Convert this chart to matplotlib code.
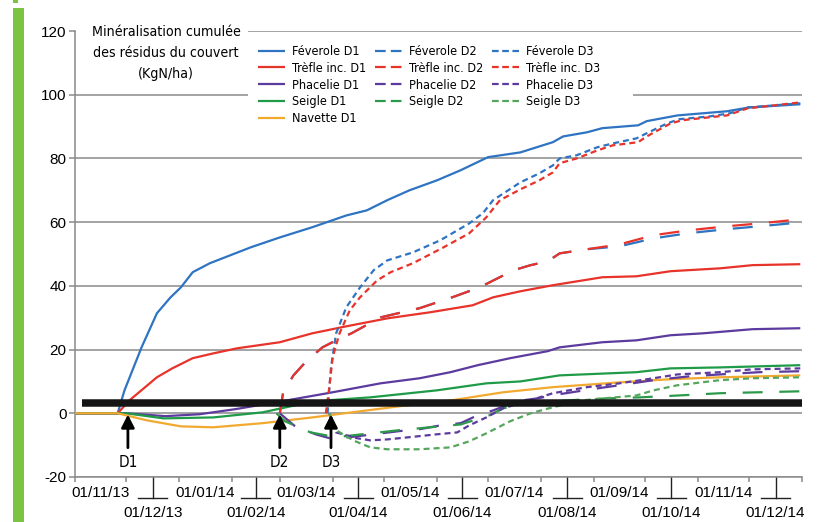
import matplotlib
matplotlib.use("Agg")
import matplotlib.pyplot as plt
from matplotlib import font_manager as fm
from matplotlib.lines import Line2D
from matplotlib.patches import Rectangle
from datetime import datetime, timedelta

# ---------------- DATA ----------------
debut = datetime(2013, 11, 1)   # day 0 of the series below

fev_d1_j = [0, 25, 29, 33, 39, 48, 56, 62, 69, 79, 91, 103, 120, 139, 159, 171, 183, 196, 212, 226, 242, 261, 280, 286, 300, 309, 330, 335, 353, 382, 395, 425]
fev_d1_v = [0, 0, 7.2, 12.6, 20.7, 31.4, 36.4, 39.5, 44.3, 47.1, 49.6, 52.1, 55.2, 58.4, 62.1, 63.7, 66.9, 70.0, 73.1, 76.3, 80.4, 81.9, 85.1, 86.9, 88.2, 89.5, 90.4, 91.7, 93.5, 94.8, 96.0, 97.0]

tre_d1_j = [0, 25, 32, 48, 57, 69, 81, 95, 120, 139, 159, 183, 208, 233, 245, 261, 280, 309, 329, 349, 378, 397, 425]
tre_d1_v = [0, 0, 4.1, 11.3, 14.1, 17.3, 18.8, 20.4, 22.3, 25.1, 27.3, 29.8, 31.7, 33.9, 36.4, 38.3, 40.2, 42.7, 43.0, 44.6, 45.5, 46.5, 46.8]

pha_d1_j = [0, 30, 53, 73, 94, 114, 148, 179, 202, 220, 236, 255, 277, 284, 309, 329, 349, 368, 397, 425]
pha_d1_v = [0, 0, -0.9, -0.3, 1.3, 3.1, 6.3, 9.4, 11.0, 12.9, 15.1, 17.3, 19.5, 20.7, 22.3, 22.9, 24.5, 25.1, 26.4, 26.7]

sei_d1_j = [0, 30, 52, 81, 110, 129, 149, 173, 212, 241, 261, 284, 329, 349, 378, 425]
sei_d1_v = [0, 0, -1.6, -1.3, 0.3, 2.5, 4.1, 5.0, 7.2, 9.4, 10.0, 11.9, 12.9, 14.1, 14.4, 15.1]

nav_d1_j = [0, 25, 42, 62, 81, 110, 139, 158, 190, 221, 251, 280, 319, 349, 378, 425]
nav_d1_v = [0, 0, -2.2, -4.1, -4.4, -3.1, -1.3, 0, 2.2, 4.1, 6.6, 8.2, 9.7, 10.7, 11.3, 11.9]

fev_d2_j = [120, 122, 128, 136, 145, 153, 162, 179, 202, 221, 237, 257, 267, 277, 284, 300, 319, 339, 359, 382, 401, 425]
fev_d2_v = [0, 6.6, 11.9, 16.6, 20.7, 22.9, 25.1, 30.1, 33.0, 36.4, 39.5, 44.9, 46.5, 47.7, 50.2, 51.5, 52.4, 54.9, 56.5, 57.8, 58.7, 59.9]

tre_d2_j = [120, 122, 128, 136, 145, 153, 162, 179, 202, 221, 237, 257, 267, 277, 284, 300, 319, 339, 359, 382, 401, 425]
tre_d2_v = [0, 6.6, 11.9, 16.6, 20.7, 22.9, 25.1, 30.1, 33.0, 36.4, 39.5, 44.9, 46.5, 47.7, 50.2, 51.5, 53.0, 55.9, 57.4, 58.7, 59.6, 60.9]

pha_d2_j = [120, 129, 141, 149, 161, 190, 202, 214, 226, 236, 245, 259, 271, 284, 302, 319, 339, 360, 378, 401, 425]
pha_d2_v = [0, -4.1, -6.6, -7.8, -7.5, -5.6, -5.0, -3.8, -3.1, -0.6, 0.9, 3.8, 4.7, 6.0, 7.5, 8.8, 10.4, 11.6, 12.2, 12.9, 13.2]

sei_d2_j = [118, 123, 138, 153, 163, 190, 202, 226, 243, 251, 267, 290, 313, 331, 354, 378, 401, 425]
sei_d2_v = [0, -2.5, -6.0, -7.5, -6.9, -5.3, -4.7, -3.5, -0.6, 1.6, 3.1, 4.1, 4.7, 5.0, 5.6, 6.3, 6.6, 6.9]

fev_d3_j = [148, 150, 153, 159, 167, 175, 183, 198, 214, 231, 239, 245, 261, 272, 280, 284, 294, 306, 315, 329, 335, 347, 354, 372, 384, 394, 425]
fev_d3_v = [0, 14.4, 25.1, 33.3, 39.5, 44.9, 48.0, 50.5, 54.3, 59.6, 62.8, 66.9, 72.5, 75.3, 77.8, 80.0, 81.0, 83.5, 84.7, 86.3, 87.9, 91.0, 92.3, 93.2, 94.2, 96.0, 97.3]

tre_d3_j = [147, 149, 151, 155, 161, 167, 177, 185, 198, 216, 231, 241, 249, 261, 272, 280, 284, 294, 306, 315, 330, 335, 349, 356, 382, 394, 425]
tre_d3_v = [0, 8.2, 17.6, 25.1, 32.3, 36.4, 41.7, 44.3, 47.1, 52.1, 56.5, 61.5, 66.9, 70.3, 73.1, 75.6, 78.5, 80.0, 82.5, 84.1, 85.1, 86.9, 91.0, 92.0, 93.5, 95.7, 97.6]

pha_d3_j = [149, 153, 165, 173, 183, 196, 212, 224, 231, 241, 251, 267, 280, 300, 319, 339, 353, 378, 397, 425]
pha_d3_v = [0, -6.0, -7.8, -8.5, -8.2, -7.5, -6.6, -6.0, -3.8, -1.3, 1.6, 4.1, 6.3, 8.2, 9.4, 11.0, 12.2, 12.9, 13.8, 14.1]

sei_d3_j = [149, 153, 163, 173, 183, 202, 220, 231, 241, 255, 267, 280, 298, 329, 339, 353, 378, 397, 425]
sei_d3_v = [0, -5.3, -8.5, -10.7, -11.3, -11.3, -10.7, -8.8, -6.3, -2.5, 0, 1.9, 4.1, 5.6, 7.2, 8.8, 10.4, 11.0, 11.3]

dates_apport = {'D1': datetime(2013, 12, 2), 'D2': datetime(2014, 3, 1), 'D3': datetime(2014, 3, 31)}

seuil_valeur = 3.1
seuil_debut = datetime(2013, 11, 5)

mois = [datetime(2013, 11, 1), datetime(2013, 12, 1), datetime(2014, 1, 1), datetime(2014, 2, 1),
        datetime(2014, 3, 1), datetime(2014, 4, 1), datetime(2014, 5, 1), datetime(2014, 6, 1),
        datetime(2014, 7, 1), datetime(2014, 8, 1), datetime(2014, 9, 1), datetime(2014, 10, 1),
        datetime(2014, 11, 1), datetime(2014, 12, 1), datetime(2015, 1, 1)]
etiquettes_x = ['01/11/13', '01/12/13', '01/01/14', '01/02/14', '01/03/14', '01/04/14', '01/05/14',
                '01/06/14', '01/07/14', '01/08/14', '01/09/14', '01/10/14', '01/11/14', '01/12/14']
yticks = [-20, 0, 20, 40, 60, 80, 100, 120]

titre = "Minéralisation cumulée\ndes résidus du couvert\n(KgN/ha)"

# ---------------- FONTS ----------------
_fonts = fm.fontManager.ttflist
_names = {f.name for f in _fonts}
if 'Liberation Sans Narrow' in _names:
    NARROW = dict(family=['Liberation Sans Narrow', 'DejaVu Sans'])
    FACT = 0.82
elif any(f.name == 'DejaVu Sans' and str(f.stretch) in ('condensed', 'semi-condensed') for f in _fonts):
    NARROW = dict(family=['DejaVu Sans'], stretch='condensed')
    FACT = 0.98
else:
    NARROW = dict(family=['Liberation Sans', 'DejaVu Sans'])
    FACT = 1.0
plt.rcParams['font.family'] = NARROW['family']
REG = ['Liberation Sans', 'DejaVu Sans']

FS_TITLE = 10.0 / FACT
FS_LEG = 8.9 / FACT
FS_D = 11.0 / FACT * 0.98

# ---------------- STYLE ----------------
BLUE = '#2e74c2'
RED = '#e8332a'
PURPLE = '#5c3a9e'
GREEN1 = '#1f9b48'
GREEN2 = '#2c9a4a'
GREEN3 = '#55a65c'
ORANGE = '#f2a930'
GRID = '#8a8a8a'

DASH2 = (9, 7.5)
DASH3 = (2.7, 1.8)
LEG2 = (4.8, 2.3)
LEG3 = (3.0, 1.6)

W, H = 817, 522
fig = plt.figure(figsize=(W / 100, H / 100), dpi=100)
ax = fig.add_axes([75 / W, 45 / H, 727 / W, 446 / H])


def d(jours):
    return [debut + timedelta(days=j) for j in jours]


series = [
    ('Féverole D1', fev_d1_j, fev_d1_v, BLUE, None, None),
    ('Trèfle inc. D1', tre_d1_j, tre_d1_v, RED, None, None),
    ('Phacelie D1', pha_d1_j, pha_d1_v, PURPLE, None, None),
    ('Seigle D1', sei_d1_j, sei_d1_v, GREEN1, None, None),
    ('Navette D1', nav_d1_j, nav_d1_v, ORANGE, None, None),
    ('Féverole D2', fev_d2_j, fev_d2_v, BLUE, DASH2, LEG2),
    ('Trèfle inc. D2', tre_d2_j, tre_d2_v, RED, DASH2, LEG2),
    ('Phacelie D2', pha_d2_j, pha_d2_v, PURPLE, DASH2, LEG2),
    ('Seigle D2', sei_d2_j, sei_d2_v, GREEN2, DASH2, LEG2),
    ('Féverole D3', fev_d3_j, fev_d3_v, BLUE, DASH3, LEG3),
    ('Trèfle inc. D3', tre_d3_j, tre_d3_v, RED, DASH3, LEG3),
    ('Phacelie D3', pha_d3_j, pha_d3_v, PURPLE, DASH3, LEG3),
    ('Seigle D3', sei_d3_j, sei_d3_v, GREEN3, DASH3, LEG3),
]

handles = []
labels = []
for lab, jj, vv, col, dash, legdash in series:
    kw = dict(color=col, lw=1.6, solid_capstyle='butt', dash_capstyle='butt', zorder=3)
    if dash is not None:
        kw['dashes'] = dash
    ax.plot(d(jj), vv, **kw)
    hk = dict(color=col, lw=1.6, dash_capstyle='butt', solid_capstyle='butt')
    if legdash is not None:
        hk['dashes'] = legdash
    handles.append(Line2D([0], [0], **hk))
    labels.append(lab)

# thick black threshold bar
ax.plot([seuil_debut, mois[-1]], [seuil_valeur, seuil_valeur], color='#151515', lw=5.4,
        solid_capstyle='butt', zorder=6)

# axes
ax.set_xlim(mois[0], mois[-1])
ax.set_ylim(-20, 120)
ax.set_yticks(yticks)
ax.set_yticklabels([str(v) for v in yticks], family=REG, fontsize=11)
ax.set_xticks(mois)
ax.set_xticklabels([])
ax.tick_params(axis='y', length=4, width=1.1, color=GRID, pad=2)
ax.tick_params(axis='x', length=3.5, width=1.1, color=GRID)
for s in ['top', 'right']:
    ax.spines[s].set_visible(False)
for s in ['left', 'bottom']:
    ax.spines[s].set_color(GRID)
    ax.spines[s].set_linewidth(1.1)
ax.yaxis.grid(True, color=GRID, lw=1.1, zorder=0)
ax.set_axisbelow(True)

# staggered month labels with brackets
tr = ax.get_xaxis_transform()
y_up = -16 / 446
y_lo = -36 / 446
y_br = -21 / 446
for i, lab in enumerate(etiquettes_x):
    centre = mois[i] + (mois[i + 1] - mois[i]) / 2
    if i % 2 == 0:
        ax.text(centre, y_up, lab, transform=tr, ha='center', va='center', fontsize=11,
                family=REG, clip_on=False)
    else:
        ax.text(centre, y_lo, lab, transform=tr, ha='center', va='center', fontsize=11,
                family=REG, clip_on=False)
        ax.plot([centre, centre], [0, y_br], transform=tr, color='#222222', lw=1.0, clip_on=False)
        ax.plot([centre - timedelta(days=8.5), centre + timedelta(days=8.5)], [y_br, y_br],
                transform=tr, color='#222222', lw=1.0, clip_on=False)

# arrows D1 D2 D3
for nom, dt in dates_apport.items():
    ax.annotate('', xy=(dt, -0.4), xytext=(dt, -10.8),
                arrowprops=dict(arrowstyle='-|>,head_length=0.55,head_width=0.28', lw=2,
                                color='black', shrinkA=0, shrinkB=0, mutation_scale=14),
                zorder=7)
    ax.text(dt, -15.3, nom, ha='center', va='center', fontsize=FS_D, zorder=7, **NARROW)

# white boxes for title and legend
ax.add_patch(Rectangle((1 / 727, 1 - (88 - 31) / 446), (248 - 76) / 727, (88 - 18) / 446,
                       transform=ax.transAxes, facecolor='white', edgecolor='none', zorder=1.5,
                       clip_on=False))
ax.add_patch(Rectangle(((248 - 75) / 727, 1 - (130 - 31) / 446), (633 - 248) / 727, (130 - 38) / 446,
                       transform=ax.transAxes, facecolor='white', edgecolor='none', zorder=1.5,
                       clip_on=False))

fig.text(166 / W, 1 - 53 / H, titre, ha='center', va='center', fontsize=FS_TITLE,
         linespacing=1.62, **NARROW)

leg = ax.legend(handles, labels, ncol=3, loc='upper left',
                bbox_to_anchor=(255.5 / W, 1 - 42.5 / H), bbox_transform=fig.transFigure,
                frameon=False, prop=fm.FontProperties(size=FS_LEG, **NARROW),
                handlelength=27 / (FS_LEG * 100 / 72), handletextpad=7 / (FS_LEG * 100 / 72),
                columnspacing=9 / (FS_LEG * 100 / 72), labelspacing=0.3,
                borderpad=0.2, borderaxespad=0)
leg.set_zorder(8)

# green bar on the left
fig.add_artist(Rectangle((13 / W, 0), 11 / W, (H - 8) / H, transform=fig.transFigure,
                         facecolor='#7cc243', edgecolor='none'))
fig.add_artist(Rectangle((13 / W, (H - 3) / H), 5 / W, 3 / H, transform=fig.transFigure,
                         facecolor='#7cc243', edgecolor='none'))

fig.savefig('out.png', dpi=100)
